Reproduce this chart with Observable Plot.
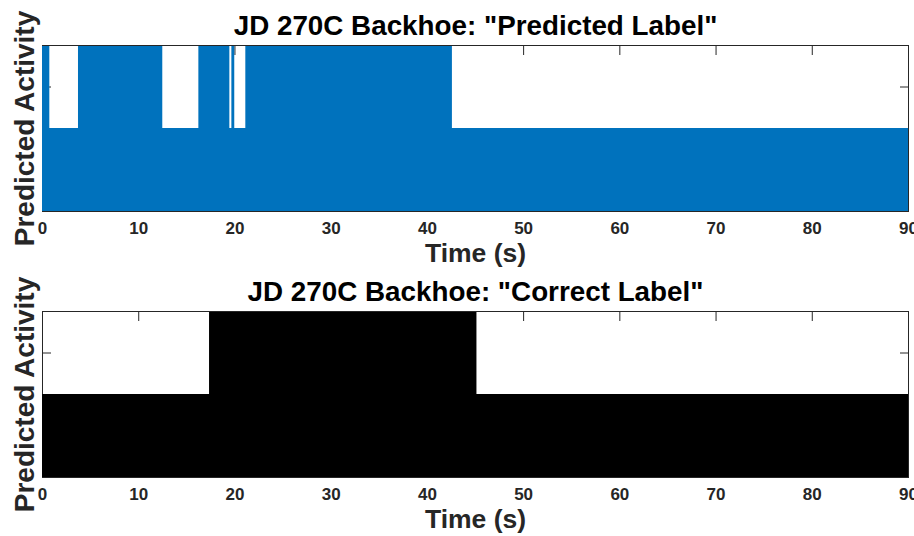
<!DOCTYPE html>
<html><head><meta charset="utf-8">
<script src="https://cdn.jsdelivr.net/npm/d3@7"></script>
<script src="https://cdn.jsdelivr.net/npm/@observablehq/plot@0.6"></script>
<style>body{margin:0;background:#fff;} #chart svg{display:block;}</style>
</head><body><div id="chart"></div>
<script>
// Predicted label: change times (s) and activity level from that time on
const predTimes  = [0, 0.76, 3.74, 12.5, 16.25, 19.47, 19.68, 19.98, 21.13, 42.6, 90];
const predValues = [2, 1,    2,    1,    2,     1,     2,     1,     2,     1,    1];
// Correct label
const correctTimes  = [0, 17.36, 45.15, 90];
const correctValues = [1, 2,     1,     1];

const xTicks = [0, 10, 20, 30, 40, 50, 60, 70, 80, 90];
const yTicks = [0, 0.5, 1, 1.5, 2];
const xDomain = [0, 90];
const yDomain = [0, 2];
const titles = ['JD 270C Backhoe: "Predicted Label"', 'JD 270C Backhoe: "Correct Label"'];
const colors = ["#0072BD", "#000000"];
const xLabel = "Time (s)";
const yLabel = "Predicted Activity";

function panel(times, values, color, title, height, marginTop, marginBottom) {
  const data = times.map((t, i) => ({t, v: values[i]}));
  return Plot.plot({
    width: 914, height, marginLeft: 42, marginRight: 6, marginTop, marginBottom,
    style: {fontFamily: "'Liberation Sans', Arial, sans-serif", fontWeight: "bold", color: "#262626", background: "#fff"},
    x: {domain: xDomain}, y: {domain: yDomain},
    marks: [
      Plot.frame({stroke: "#262626"}),
      Plot.axisX(xTicks, {anchor: "top", tickSize: 9, dy: 9, tickFormat: () => "", label: null}),
      Plot.axisY(yTicks, {anchor: "left", tickSize: 9, dx: 9, tickFormat: () => "", label: null}),
      Plot.axisY(yTicks, {anchor: "right", tickSize: 9, dx: -9, tickFormat: () => "", label: null}),
      Plot.areaY(data, {x: "t", y: "v", curve: "step-after", fill: color}),
      Plot.ruleY([yDomain[1]], {stroke: "#262626"}),
      Plot.axisX(xTicks, {anchor: "bottom", tickSize: 0, tickPadding: 10, fontSize: 17, fontWeight: "bold", label: null, fill: "#262626"}),
      Plot.text([xLabel], {text: d => d, frameAnchor: "bottom", textAnchor: "middle", lineAnchor: "top", dy: 32, fontSize: 26.5, fontWeight: "bold", fill: "#262626"}),
      Plot.text([title], {text: d => d, frameAnchor: "top", textAnchor: "middle", lineAnchor: "bottom", dy: -11, fontSize: 27.8, fontWeight: "bold", fill: "#000"}),
      Plot.text([yLabel], {text: d => d, frameAnchor: "left", textAnchor: "middle", lineAnchor: "bottom", rotate: -90, dx: -8.5, fontSize: 28, fontWeight: "bold", fill: "#262626"})
    ]
  });
}

const chart = document.getElementById("chart");
chart.appendChild(panel(predTimes, predValues, colors[0], titles[0], 270, 45, 59));
chart.appendChild(panel(correctTimes, correctValues, colors[1], titles[1], 266, 41, 59));
</script>
</body></html>
